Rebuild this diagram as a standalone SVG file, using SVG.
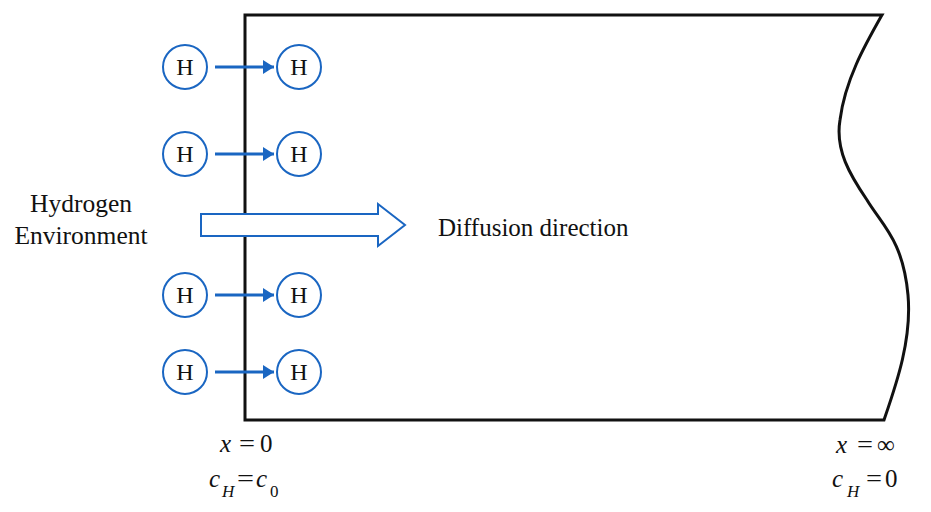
<svg xmlns="http://www.w3.org/2000/svg" width="931" height="512" viewBox="0 0 931 512">
<style>
.t{font-family:"Liberation Serif","Times New Roman",serif;fill:#111;}
.m{font-family:"Liberation Serif","Times New Roman",serif;fill:#111;font-size:25px;}
.i{font-style:italic;}
.s{font-size:17px;}
.atom circle{fill:#fff;stroke:#1a66c2;stroke-width:2;}
.atom text{font-family:"Liberation Serif",serif;font-size:24px;fill:#111;text-anchor:middle;}
.arr{stroke:#1a66c2;stroke-width:3;fill:none;}
</style>
<defs>
<marker id="ah" markerWidth="11" markerHeight="14" refX="11" refY="7" orient="auto" markerUnits="userSpaceOnUse">
<path d="M0,0 L11,7 L0,14 Z" fill="#1a66c2"/>
</marker>
</defs>
<rect width="931" height="512" fill="#fff"/>
<g id="body">
<path d="M882,15 L245,15 L245,420 L884,420 C896,385 912,340 908,295 C903,240 882,225 867,200 C850,175 835,150 840,120 C845,80 865,45 882,15 Z" fill="none" stroke="#111" stroke-width="3"/>
</g>
<g id="connectors">
<line class="arr" x1="215" y1="67" x2="274" y2="67" marker-end="url(#ah)"/>
<line class="arr" x1="215" y1="154" x2="274" y2="154" marker-end="url(#ah)"/>
<line class="arr" x1="215" y1="295" x2="274" y2="295" marker-end="url(#ah)"/>
<line class="arr" x1="215" y1="372" x2="274" y2="372" marker-end="url(#ah)"/>
<path id="bigarrow" d="M201,214 L378,214 L378,204 L405,225 L378,246 L378,236 L201,236 Z" fill="#fff" stroke="#1a66c2" stroke-width="2"/>
</g>
<g id="h1l" class="atom"><circle cx="185" cy="67" r="22"/><text x="185" y="75">H</text></g>
<g id="h1r" class="atom"><circle cx="299" cy="67" r="22"/><text x="299" y="75">H</text></g>
<g id="h2l" class="atom"><circle cx="185" cy="154" r="22"/><text x="185" y="162">H</text></g>
<g id="h2r" class="atom"><circle cx="299" cy="154" r="22"/><text x="299" y="162">H</text></g>
<g id="h3l" class="atom"><circle cx="185" cy="295" r="22"/><text x="185" y="303">H</text></g>
<g id="h3r" class="atom"><circle cx="299" cy="295" r="22"/><text x="299" y="303">H</text></g>
<g id="h4l" class="atom"><circle cx="185" cy="372" r="22"/><text x="185" y="380">H</text></g>
<g id="h4r" class="atom"><circle cx="299" cy="372" r="22"/><text x="299" y="380">H</text></g>
<g id="env">
<text class="t" x="81" y="212" font-size="25.5" text-anchor="middle">Hydrogen</text>
<text class="t" x="81" y="244" font-size="25.5" text-anchor="middle">Environment</text>
</g>
<g id="diff"><text class="t" x="438" y="236" font-size="25">Diffusion direction</text></g>
<g id="left-bc">
<text class="m i" x="220" y="452">x</text>
<text class="m" x="239" y="452" textLength="16" lengthAdjust="spacingAndGlyphs">=</text>
<text class="m" x="260" y="452">0</text>
<text class="m i" x="209" y="487">c</text>
<text class="m i s" x="222" y="497">H</text>
<text class="m" x="237" y="487" textLength="17" lengthAdjust="spacingAndGlyphs">=</text>
<text class="m i" x="256" y="487">c</text>
<text class="m s" x="270" y="497">0</text>
</g>
<g id="right-bc">
<text class="m i" x="836" y="453">x</text>
<text class="m" x="857" y="453" textLength="16" lengthAdjust="spacingAndGlyphs">=</text>
<text class="m" x="877" y="453">∞</text>
<text class="m i" x="832" y="487">c</text>
<text class="m i s" x="847" y="497">H</text>
<text class="m" x="866" y="487" textLength="16" lengthAdjust="spacingAndGlyphs">=</text>
<text class="m" x="885" y="487">0</text>
</g>
</svg>
